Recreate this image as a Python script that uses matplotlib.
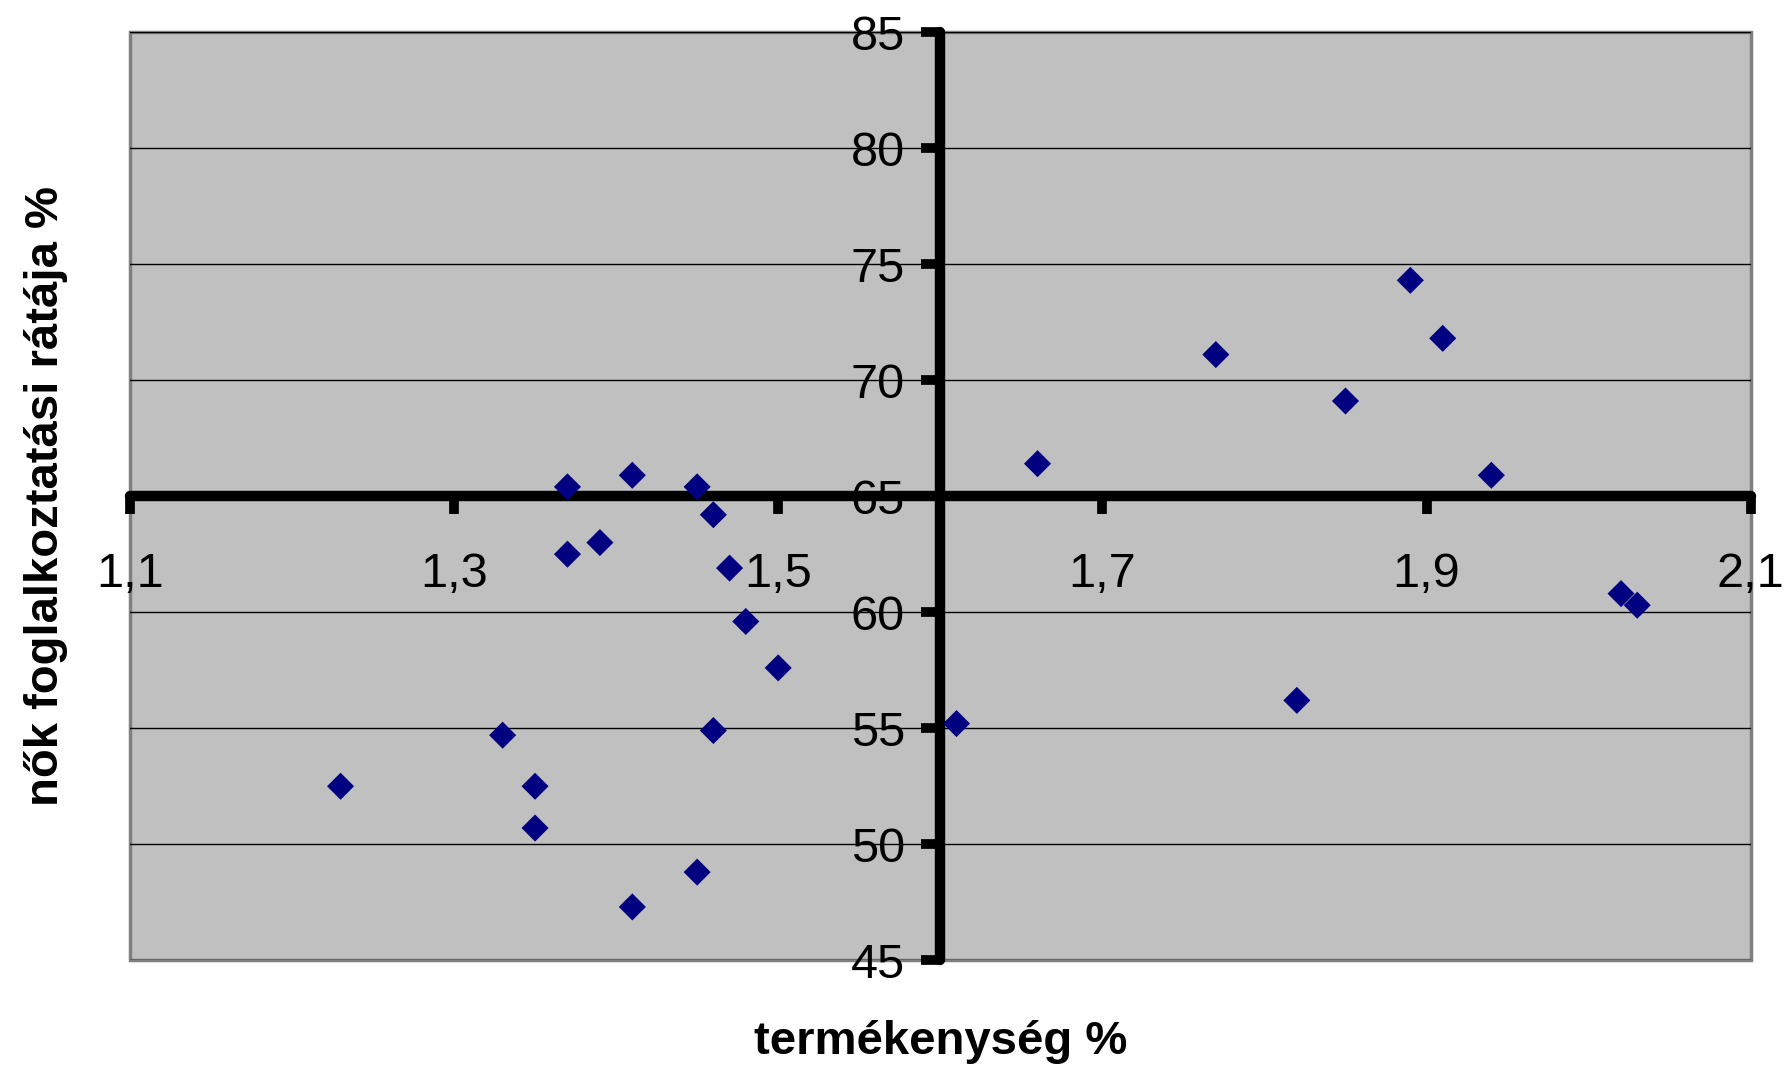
import matplotlib

matplotlib.use("Agg")
import matplotlib.pyplot as plt

plt.rcParams["font.family"] = ["Liberation Sans", "DejaVu Sans"]

# fertility (x) vs female employment rate (y), one point per country
fertility = [1.23, 1.33, 1.35, 1.35, 1.37, 1.37, 1.39, 1.41, 1.41, 1.45,
             1.45, 1.46, 1.46, 1.47, 1.48, 1.50, 1.61, 1.66, 1.77, 1.82,
             1.85, 1.89, 1.91, 1.94, 2.02, 2.03]
employment = [52.5, 54.7, 52.5, 50.7, 65.4, 62.5, 63.0, 65.9, 47.3, 65.4,
              48.8, 64.2, 54.9, 61.9, 59.6, 57.6, 55.2, 66.4, 71.1, 56.2,
              69.1, 74.3, 71.8, 65.9, 60.8, 60.3]

x_ticks = [1.1, 1.3, 1.5, 1.7, 1.9, 2.1]
y_ticks = [45, 50, 55, 60, 65, 70, 75, 80, 85]
x_cross = 1.6
y_cross = 65

fig = plt.figure(figsize=(17.91, 10.67), dpi=100)
ax = fig.add_axes([0.0725, 0.100, 0.905, 0.870])

ax.set_facecolor("#c0c0c0")
ax.patch.set_edgecolor("#808080")
ax.patch.set_linewidth(2.5)

ax.scatter(fertility, employment, marker="D", s=190, color="#000080",
           edgecolors="none", zorder=3, clip_on=False)

ax.set_xlim(1.1, 2.1)
ax.set_ylim(45, 85)
ax.set_xticks(x_ticks)
ax.set_yticks(y_ticks)
ax.set_xticklabels([f"{v:.1f}".replace(".", ",") for v in x_ticks])
ax.set_yticklabels([str(v) for v in y_ticks])

# horizontal gridlines only
ax.yaxis.grid(True, color="black", linewidth=1.0)
ax.xaxis.grid(False)

# axes cross in the middle of the plot
for side in ("top", "right"):
    ax.spines[side].set_visible(False)
ax.spines["left"].set_position(("data", x_cross))
ax.spines["bottom"].set_position(("data", y_cross))
for side in ("left", "bottom"):
    ax.spines[side].set_linewidth(7.5)
    ax.spines[side].set_color("black")
    ax.spines[side].set_capstyle("round")

ax.tick_params(axis="x", direction="out", length=13, width=7, pad=27,
               color="black", labelsize=35)
ax.tick_params(axis="y", direction="out", length=13.5, width=7, pad=12,
               color="black", labelsize=35)

ax.set_xlabel("termékenység %", fontsize=34, fontweight="bold")
ax.set_ylabel("nők foglalkoztatási rátája %", fontsize=34, fontweight="bold")
ax.xaxis.set_label_coords(0.5, -0.088)
ax.xaxis.label.set_va("center")
ax.yaxis.set_label_coords(-0.052, 0.5)
ax.yaxis.label.set_va("center")

fig.savefig("out.png", dpi=100)
